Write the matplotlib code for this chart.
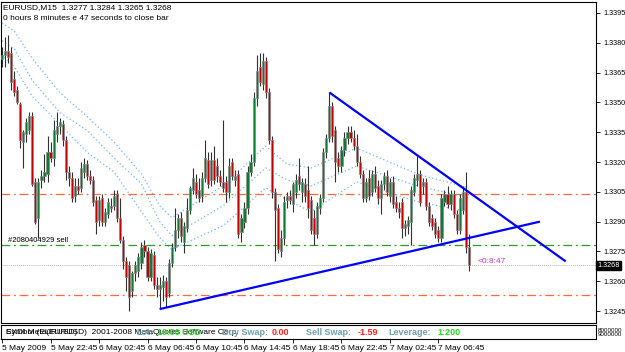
import numpy as np
import matplotlib.pyplot as plt
from matplotlib.transforms import blended_transform_factory

# EURUSD M15, one bar every 15 min starting 5 May 2009 18:45
opens = [1.3372, 1.3374, 1.3376, 1.3375, 1.3362, 1.3356, 1.3349, 1.3330, 1.3334, 1.3336,
         1.3343, 1.3310, 1.3292, 1.3311, 1.3313, 1.3314, 1.3325, 1.3322, 1.3334, 1.3338,
         1.3339, 1.3331, 1.3315, 1.3312, 1.3303, 1.3308, 1.3307, 1.3315, 1.3319, 1.3313,
         1.3311, 1.3301, 1.3291, 1.3302, 1.3290, 1.3294, 1.3298, 1.3298, 1.3304, 1.3292,
         1.3281, 1.3270, 1.3268, 1.3255, 1.3264, 1.3265, 1.3269, 1.3278, 1.3275, 1.3262,
         1.3273, 1.3258, 1.3256, 1.3257, 1.3260, 1.3254, 1.3269, 1.3277, 1.3286, 1.3292,
         1.3280, 1.3287, 1.3296, 1.3306, 1.3310, 1.3306, 1.3303, 1.3312, 1.3321, 1.3311,
         1.3321, 1.3318, 1.3313, 1.3310, 1.3310, 1.3305, 1.3320, 1.3311, 1.3314, 1.3285,
         1.3290, 1.3297, 1.3315, 1.3320, 1.3352, 1.3368, 1.3359, 1.3371, 1.3355, 1.3331,
         1.3305, 1.3297, 1.3275, 1.3282, 1.3301, 1.3303, 1.3299, 1.3305, 1.3313, 1.3305,
         1.3309, 1.3306, 1.3301, 1.3292, 1.3284, 1.3297, 1.3302, 1.3325, 1.3332, 1.3348,
         1.3336, 1.3322, 1.3318, 1.3326, 1.3332, 1.3335, 1.3332, 1.3328, 1.3320, 1.3314,
         1.3302, 1.3312, 1.3305, 1.3314, 1.3308, 1.3302, 1.3309, 1.3313, 1.3303, 1.3310,
         1.3300, 1.3297, 1.3300, 1.3287, 1.3288, 1.3290, 1.3305, 1.3311, 1.3314, 1.3308,
         1.3310, 1.3298, 1.3292, 1.3290, 1.3286, 1.3282, 1.3300, 1.3304, 1.3299, 1.3304,
         1.3294, 1.3286, 1.3296, 1.3305, 1.3277]
highs = [1.3378, 1.3383, 1.3384, 1.3378, 1.3366, 1.3358, 1.3350, 1.3336, 1.3342, 1.3345,
         1.3345, 1.3312, 1.3312, 1.3316, 1.3324, 1.3333, 1.3330, 1.3341, 1.3345, 1.3342,
         1.3341, 1.3333, 1.3318, 1.3315, 1.3312, 1.3312, 1.3320, 1.3322, 1.3321, 1.3316,
         1.3313, 1.3303, 1.3303, 1.3304, 1.3297, 1.3302, 1.3302, 1.3306, 1.3306, 1.3302,
         1.3283, 1.3272, 1.3270, 1.3265, 1.3270, 1.3274, 1.3280, 1.3281, 1.3277, 1.3276,
         1.3275, 1.3262, 1.3262, 1.3263, 1.3262, 1.3271, 1.3279, 1.3297, 1.3294, 1.3295,
         1.3290, 1.3302, 1.3308, 1.3317, 1.3314, 1.3312, 1.3315, 1.3331, 1.3325, 1.3325,
         1.3328, 1.3322, 1.3316, 1.3341, 1.3313, 1.3322, 1.3322, 1.3316, 1.3316, 1.3294,
         1.3300, 1.3318, 1.3324, 1.3355, 1.3374, 1.3375, 1.3375, 1.3373, 1.3357, 1.3333,
         1.3307, 1.3299, 1.3286, 1.3303, 1.3305, 1.3306, 1.3310, 1.3314, 1.3322, 1.3312,
         1.3312, 1.3318, 1.3303, 1.3296, 1.3300, 1.3304, 1.3327, 1.3334, 1.3355, 1.3350,
         1.3338, 1.3325, 1.3328, 1.3335, 1.3338, 1.3338, 1.3336, 1.3334, 1.3323, 1.3316,
         1.3312, 1.3316, 1.3316, 1.3318, 1.3311, 1.3311, 1.3315, 1.3316, 1.3312, 1.3313,
         1.3303, 1.3300, 1.3302, 1.3291, 1.3293, 1.3308, 1.3314, 1.3323, 1.3316, 1.3312,
         1.3312, 1.3300, 1.3294, 1.3292, 1.3288, 1.3304, 1.3306, 1.3308, 1.3306, 1.3306,
         1.3296, 1.3304, 1.3308, 1.3315, 1.3284]
lows = [1.3368, 1.3368, 1.3370, 1.3356, 1.3353, 1.3349, 1.3327, 1.3317, 1.3330, 1.3334,
        1.3308, 1.3289, 1.3282, 1.3307, 1.3310, 1.3310, 1.3320, 1.3318, 1.3330, 1.3334,
        1.3328, 1.3311, 1.3308, 1.3300, 1.3300, 1.3304, 1.3305, 1.3312, 1.3311, 1.3309,
        1.3298, 1.3284, 1.3288, 1.3288, 1.3288, 1.3292, 1.3295, 1.3296, 1.3290, 1.3279,
        1.3266, 1.3255, 1.3245, 1.3252, 1.3260, 1.3262, 1.3266, 1.3272, 1.3260, 1.3260,
        1.3256, 1.3252, 1.3246, 1.3250, 1.3247, 1.3252, 1.3267, 1.3275, 1.3282, 1.3280,
        1.3274, 1.3285, 1.3294, 1.3304, 1.3302, 1.3300, 1.3300, 1.3310, 1.3307, 1.3308,
        1.3309, 1.3310, 1.3308, 1.3305, 1.3300, 1.3302, 1.3311, 1.3308, 1.3282, 1.3280,
        1.3287, 1.3294, 1.3313, 1.3318, 1.3348, 1.3358, 1.3356, 1.3352, 1.3329, 1.3302,
        1.3270, 1.3274, 1.3272, 1.3278, 1.3297, 1.3299, 1.3295, 1.3302, 1.3306, 1.3300,
        1.3300, 1.3292, 1.3284, 1.3278, 1.3282, 1.3294, 1.3300, 1.3322, 1.3330, 1.3330,
        1.3310, 1.3315, 1.3315, 1.3323, 1.3329, 1.3330, 1.3326, 1.3318, 1.3312, 1.3300,
        1.3300, 1.3301, 1.3303, 1.3305, 1.3299, 1.3294, 1.3306, 1.3303, 1.3300, 1.3297,
        1.3295, 1.3292, 1.3282, 1.3283, 1.3284, 1.3278, 1.3303, 1.3308, 1.3298, 1.3304,
        1.3296, 1.3288, 1.3286, 1.3282, 1.3280, 1.3280, 1.3298, 1.3297, 1.3296, 1.3292,
        1.3284, 1.3284, 1.3294, 1.3274, 1.3265]
closes = [1.3374, 1.3376, 1.3373, 1.3360, 1.3355, 1.3350, 1.3331, 1.3335, 1.3340, 1.3343,
          1.3309, 1.3290, 1.3310, 1.3313, 1.3315, 1.3325, 1.3322, 1.3336, 1.3338, 1.3340,
          1.3331, 1.3315, 1.3312, 1.3302, 1.3308, 1.3306, 1.3317, 1.3319, 1.3313, 1.3311,
          1.3300, 1.3290, 1.3301, 1.3290, 1.3295, 1.3300, 1.3297, 1.3303, 1.3292, 1.3281,
          1.3270, 1.3262, 1.3252, 1.3264, 1.3268, 1.3272, 1.3277, 1.3275, 1.3262, 1.3274,
          1.3258, 1.3256, 1.3258, 1.3260, 1.3252, 1.3269, 1.3277, 1.3286, 1.3292, 1.3283,
          1.3288, 1.3296, 1.3307, 1.3312, 1.3304, 1.3302, 1.3312, 1.3322, 1.3309, 1.3321,
          1.3311, 1.3313, 1.3310, 1.3307, 1.3305, 1.3318, 1.3313, 1.3313, 1.3284, 1.3292,
          1.3297, 1.3315, 1.3320, 1.3352, 1.3366, 1.3360, 1.3371, 1.3355, 1.3331, 1.3305,
          1.3296, 1.3276, 1.3282, 1.3300, 1.3303, 1.3301, 1.3309, 1.3311, 1.3309, 1.3310,
          1.3303, 1.3297, 1.3286, 1.3284, 1.3298, 1.3302, 1.3325, 1.3332, 1.3348, 1.3333,
          1.3320, 1.3318, 1.3326, 1.3332, 1.3335, 1.3332, 1.3328, 1.3320, 1.3314, 1.3302,
          1.3310, 1.3303, 1.3314, 1.3307, 1.3302, 1.3309, 1.3313, 1.3305, 1.3310, 1.3299,
          1.3297, 1.3295, 1.3287, 1.3289, 1.3291, 1.3306, 1.3312, 1.3314, 1.3300, 1.3310,
          1.3298, 1.3290, 1.3288, 1.3284, 1.3282, 1.3302, 1.3304, 1.3299, 1.3304, 1.3294,
          1.3286, 1.3302, 1.3305, 1.3277, 1.3268]

# dotted moving-average band, sampled at bar numbers
band_idx = [0, 4, 10, 19, 28, 37, 46, 52, 56, 73, 87, 94, 102, 117, 137, 154]
band_upper = [1.3390, 1.3386, 1.3372, 1.3355, 1.3343, 1.3330, 1.3314, 1.3298, 1.3292,
              1.3308, 1.3328, 1.3319, 1.3317, 1.3327, 1.3314, 1.3307]
band_mid = [1.3381, 1.3377, 1.3361, 1.3345, 1.3336, 1.3322, 1.3309, 1.3290, 1.3283,
            1.3298, 1.3317, 1.3311, 1.3308, 1.3318, 1.3308, 1.3302]
band_lower = [1.3374, 1.3368, 1.3353, 1.3339, 1.3325, 1.3315, 1.3295, 1.3282, 1.3276,
              1.3288, 1.3307, 1.3301, 1.3295, 1.3310, 1.3300, 1.3295]

# trend lines (bar number, price)
down_line = ([108, 186], [1.3355, 1.3270])
up_line = ([52, 177.5], [1.3246, 1.3290])

stop_loss = 1.3304
open_price = 1.3278
take_profit = 1.3253
bid = 1.3268

price_ticks = [1.3245 + 0.0015 * k for k in range(11)]
time_idx = [0, 16, 32, 48, 64, 80, 96, 112, 128, 144]
time_labels = ['5 May 2009', '5 May 22:45', '6 May 02:45', '6 May 06:45', '6 May 10:45',
               '6 May 14:45', '6 May 18:45', '6 May 22:45', '7 May 02:45', '7 May 06:45']

plt.rcParams['font.family'] = ['Liberation Sans', 'DejaVu Sans']

W, H = 625, 352
fig = plt.figure(figsize=(W / 100, H / 100), dpi=100)
fig.patch.set_facecolor('white')
ax = fig.add_axes([1 / W, (H - 323) / H, 595 / W, 321 / H])
ax2 = fig.add_axes([1 / W, (H - 339) / H, 595 / W, 14 / H])

xlim = (-0.35, 196)
ax.set_xlim(*xlim)
ax2.set_xlim(*xlim)
ax.set_ylim(1.3239, 1.34005)

x = np.arange(len(closes))
o = np.array(opens)
c = np.array(closes)
up = c >= o

# bands
for vals in (band_upper, band_mid, band_lower):
    ax.plot(band_idx, vals, color='#6db3ff', lw=0.9, ls=(0, (1, 2)), zorder=1)

# order lines
ax.axhline(stop_loss, color='#ff6a3d', lw=0.9, ls=(0, (7, 3, 1.5, 3)), zorder=1)
ax.axhline(take_profit, color='#ff6a3d', lw=0.9, ls=(0, (7, 3, 1.5, 3)), zorder=1)
ax.axhline(open_price, color='#2e9a2e', lw=0.9, ls=(0, (7, 3, 1.5, 3)), zorder=1)
ax.axhline(bid, color='#b4b4b4', lw=0.7, ls=(0, (1, 1)), zorder=1)

# candles
ax.vlines(x, lows, highs, color='#303030', lw=0.8, zorder=2)
bottoms = np.minimum(o, c)
heights = np.maximum(np.abs(c - o), 0.00004)
ax.bar(x[up], heights[up], bottom=bottoms[up], width=0.7, color='#0f7a34',
       edgecolor='#8a8a8a', lw=0.5, zorder=3)
ax.bar(x[~up], heights[~up], bottom=bottoms[~up], width=0.7, color='#c00000',
       edgecolor='#8a8a8a', lw=0.5, zorder=3)

# trend lines
ax.plot(*down_line, color='#0000ff', lw=1.6, zorder=4, solid_capstyle='butt')
ax.plot(*up_line, color='#0000ff', lw=1.6, zorder=4, solid_capstyle='butt')

ax.set_xticks([])
ax.yaxis.tick_right()
ax.set_yticks(price_ticks)
ax.set_yticklabels(['%.4f' % p for p in price_ticks])
ax.tick_params(axis='y', direction='out', length=3, width=0.6, pad=2, labelsize=5.2)
for s in ax.spines.values():
    s.set_color('black')
    s.set_linewidth(0.8)

trans = blended_transform_factory(ax.transAxes, ax.transData)
ax.annotate('%.4f' % bid, xy=(1, bid), xycoords=trans, xytext=(1.0, 0),
            textcoords='offset points', ha='left', va='center', color='white',
            fontsize=5.2, bbox=dict(boxstyle='square,pad=0.15', fc='black', ec='black'),
            annotation_clip=False)

ax.text(2, open_price + 0.00005, '#2080404929 sell', fontsize=5.5, color='black',
        va='bottom', ha='left')
ax.text(157, bid + 0.00003, '<0:8:47', fontsize=6, color='#b040c0', va='bottom', ha='left')

fig.text(3 / W, 1 - 8 / H, 'EURUSD,M15  1.3277 1.3284 1.3265 1.3268', fontsize=6, va='center')
fig.text(3 / W, 1 - 18 / H, '0 hours 8 minutes e 47 seconds to close bar', fontsize=6, va='center')

# info sub-window
ax2.set_yticks([])
ax2.set_xticks(time_idx)
ax2.set_xticklabels(time_labels)
for lbl in ax2.get_xticklabels():
    lbl.set_ha('left')
ax2.tick_params(axis='x', direction='out', length=3, width=0.6, pad=1, labelsize=6)
for s in ax2.spines.values():
    s.set_color('black')
    s.set_linewidth(0.8)

yc = 0.45
ax2.text(0.008, yc, 'EXDI Meta(EURUSD)  2001-2008 MetaQuotes Software Corp.',
         transform=ax2.transAxes, fontsize=6, va='center')
ax2.text(0.008, yc, 'Symbol (EURUSD)', transform=ax2.transAxes, fontsize=6, va='center')
ax2.text(0.228, yc, 'Lot:', transform=ax2.transAxes, fontsize=6.5, va='center',
         color='#6f9faf', fontweight='bold')
ax2.text(0.262, yc, '10.00 USD', transform=ax2.transAxes, fontsize=6.5, va='center',
         color='#22dd22', fontweight='bold')

info = [(0.372, 'Buy Swap:', '#6f9faf'), (0.455, '0.00', '#ff2020'),
        (0.513, 'Sell Swap:', '#6f9faf'), (0.600, '-1.59', '#ff2020'),
        (0.651, 'Leverage:', '#6f9faf'), (0.733, '1:200', '#22dd22')]
for xp, t, col in info:
    ax2.text(xp, yc, t, transform=ax2.transAxes, fontsize=6.5, va='center',
             color=col, fontweight='bold')

fig.text(598 / W, 1 - 331 / H, '8000000', fontsize=4.5, va='center')
fig.text(598 / W, 1 - 334 / H, '9000000', fontsize=4.5, va='center')

fig.savefig('out.png', dpi=100, facecolor='white')
